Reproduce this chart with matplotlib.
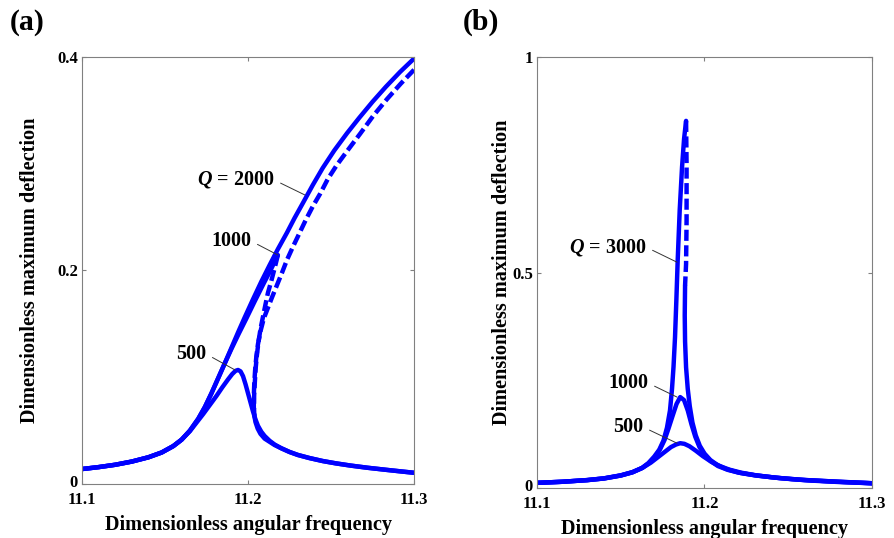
import matplotlib.pyplot as plt
from matplotlib.transforms import ScaledTranslation

plt.rcParams['font.family'] = 'Liberation Serif'
plt.rcParams['font.weight'] = 'bold'
plt.rcParams['axes.labelweight'] = 'bold'
plt.rcParams['mathtext.fontset'] = 'custom'
plt.rcParams['mathtext.it'] = 'Liberation Serif:italic:bold'
plt.rcParams['mathtext.rm'] = 'Liberation Serif:bold'

BLUE = (0, 0, 1)
DASH = (0, (2.5, 1.0))
LW = 3.2

# ---- (a) hardening response, Q = 500 / 1000 / 2000 ----
# Q = 2000: rising stable branch (leaves the frame at 11.3)
a_q2000_x = [11.100, 11.110, 11.120, 11.130, 11.140, 11.148, 11.155, 11.160, 11.165,
             11.170, 11.174, 11.178, 11.182, 11.186, 11.190, 11.194, 11.198, 11.203,
             11.208, 11.213, 11.218, 11.2235, 11.228, 11.233, 11.239, 11.245, 11.252,
             11.2596, 11.267, 11.275, 11.283, 11.2916, 11.300]
a_q2000_y = [0.0140, 0.0158, 0.0180, 0.0210, 0.0250, 0.0295, 0.0355, 0.0415, 0.0500,
             0.0610, 0.0720, 0.0850, 0.0990, 0.1130, 0.1275, 0.1420, 0.1560, 0.1730,
             0.1895, 0.2050, 0.2200, 0.2355, 0.2490, 0.2630, 0.2800, 0.2960, 0.3125,
             0.3285, 0.3430, 0.3580, 0.3720, 0.3860, 0.3985]
# Q = 2000: unstable branch
a_q2000_unst_x = [11.300, 11.292, 11.2837, 11.2755, 11.2675, 11.260, 11.2536, 11.248,
                  11.2435, 11.239, 11.235, 11.231, 11.227, 11.2235, 11.2205, 11.2175,
                  11.2145, 11.212, 11.2095, 11.2075, 11.206, 11.205, 11.2043, 11.2038,
                  11.2035, 11.2035, 11.2038]
a_q2000_unst_y = [0.388, 0.375, 0.3605, 0.345, 0.328, 0.3125, 0.299, 0.2855,
                  0.272, 0.260, 0.248, 0.235, 0.222, 0.210, 0.198, 0.1865,
                  0.175, 0.165, 0.155, 0.143, 0.131, 0.119, 0.107, 0.095,
                  0.083, 0.072, 0.064]
# Q = 1000: rising stable branch up to the jump
a_q1000_x = [11.100, 11.110, 11.120, 11.130, 11.140, 11.148, 11.155, 11.160, 11.165,
             11.170, 11.174, 11.178, 11.182, 11.186, 11.190, 11.1945, 11.199, 11.204,
             11.209, 11.2135, 11.218]
a_q1000_y = [0.0140, 0.0158, 0.0180, 0.0210, 0.0250, 0.0295, 0.0355, 0.0415, 0.0500,
             0.0610, 0.0720, 0.0850, 0.0990, 0.1130, 0.1265, 0.1410, 0.1550, 0.1710,
             0.1865, 0.2000, 0.2145]
# Q = 1000: unstable branch
a_q1000_unst_x = [11.218, 11.216, 11.214, 11.212, 11.2105, 11.209, 11.2075, 11.2063,
                  11.2053, 11.2046, 11.2041, 11.2037, 11.2036, 11.2038]
a_q1000_unst_y = [0.2145, 0.202, 0.190, 0.179, 0.168, 0.1565, 0.145, 0.133,
                  0.120, 0.108, 0.095, 0.083, 0.072, 0.064]
# lower stable branch (Q = 1000 and 2000)
a_lower_x = [11.2038, 11.2045, 11.2058, 11.2075, 11.210, 11.213, 11.216, 11.220, 11.225,
             11.230, 11.237, 11.245, 11.253, 11.262, 11.272, 11.283, 11.292, 11.300]
a_lower_y = [0.064, 0.058, 0.052, 0.047, 0.0425, 0.0395, 0.0365, 0.0335, 0.0300,
             0.0272, 0.0243, 0.0215, 0.0193, 0.0172, 0.0152, 0.0133, 0.0118, 0.0105]
# Q = 500: single-valued peak
a_q500_x = [11.100, 11.110, 11.120, 11.130, 11.140, 11.148, 11.155, 11.160, 11.165,
            11.169, 11.173, 11.177, 11.181, 11.1845, 11.188, 11.1905, 11.1925, 11.194,
            11.1955, 11.197, 11.1985, 11.200, 11.2015, 11.203, 11.2045, 11.206, 11.208,
            11.210, 11.213, 11.216, 11.220, 11.225, 11.230, 11.237, 11.245, 11.253,
            11.262, 11.272, 11.283, 11.292, 11.300]
a_q500_y = [0.0140, 0.0158, 0.0180, 0.0210, 0.0250, 0.0295, 0.0355, 0.0415, 0.0495,
            0.0575, 0.0655, 0.0740, 0.0825, 0.0905, 0.0980, 0.1030, 0.1060, 0.1068,
            0.1055, 0.1010, 0.0935, 0.0850, 0.0765, 0.0680, 0.0605, 0.0545, 0.0490,
            0.0450, 0.0405, 0.0370, 0.0335, 0.0300, 0.0272, 0.0243, 0.0215, 0.0193,
            0.0172, 0.0152, 0.0133, 0.0118, 0.0105]

# ---- (b) near-linear response, Q = 500 / 1000 / 3000 ----
b_q500_x = [11.100, 11.115, 11.130, 11.140, 11.150, 11.157, 11.163, 11.168, 11.172,
            11.176, 11.180, 11.183, 11.1855, 11.188, 11.191, 11.195, 11.199, 11.204,
            11.209, 11.215, 11.222, 11.230, 11.240, 11.252, 11.265, 11.280, 11.300]
b_q500_y = [0.0120, 0.0145, 0.0185, 0.0225, 0.0295, 0.0370, 0.0470, 0.0590, 0.0710,
            0.0830, 0.0950, 0.1010, 0.1040, 0.1025, 0.0970, 0.0860, 0.0740, 0.0610,
            0.0510, 0.0425, 0.0355, 0.0300, 0.0250, 0.0205, 0.0170, 0.0140, 0.0110]
b_q1000_x = [11.100, 11.115, 11.130, 11.140, 11.150, 11.157, 11.163, 11.167, 11.1705,
             11.1735, 11.1762, 11.1785, 11.181, 11.1833, 11.1855, 11.1878, 11.190, 11.1922,
             11.1945, 11.197, 11.200, 11.2035, 11.208, 11.214, 11.222, 11.232, 11.245,
             11.260, 11.280, 11.300]
b_q1000_y = [0.0120, 0.0145, 0.0183, 0.0222, 0.0290, 0.0365, 0.0470, 0.0580, 0.0720,
             0.0900, 0.1120, 0.1380, 0.1680, 0.1950, 0.2110, 0.2040, 0.1800, 0.1480,
             0.1190, 0.0950, 0.0770, 0.0630, 0.0510, 0.0420, 0.0345, 0.0285, 0.0230,
             0.0185, 0.0145, 0.0110]
b_q3000_x = [11.100, 11.115, 11.130, 11.140, 11.150, 11.157, 11.1625, 11.1665, 11.170,
             11.173, 11.1755, 11.1776, 11.1794, 11.1806, 11.1815, 11.1824, 11.1832, 11.184,
             11.1852, 11.1866, 11.1878, 11.189]
b_q3000_y = [0.0120, 0.0145, 0.0183, 0.0222, 0.0290, 0.0365, 0.0460, 0.0580, 0.0730,
             0.0890, 0.1100, 0.1400, 0.1800, 0.2300, 0.2810, 0.3500, 0.4360, 0.5290,
             0.6450, 0.7450, 0.8100, 0.8520]
b_q3000_unst_x = [11.189, 11.1893, 11.1893, 11.189, 11.1884]
b_q3000_unst_y = [0.852, 0.750, 0.620, 0.520, 0.470]
b_q3000_lower_x = [11.1884, 11.1882, 11.1884, 11.189, 11.190, 11.1912, 11.1928, 11.1948,
                   11.1972, 11.200, 11.2035, 11.2075, 11.213, 11.220, 11.230, 11.243,
                   11.258, 11.278, 11.300]
b_q3000_lower_y = [0.470, 0.400, 0.340, 0.280, 0.230, 0.190, 0.152, 0.122,
                   0.098, 0.080, 0.065, 0.054, 0.044, 0.036, 0.0295, 0.0238,
                   0.019, 0.015, 0.0112]


def style_axes(ax, yticks, yticklabels):
    ax.set_xlim(11.1, 11.3)
    ax.set_ylim(0, yticks[-1])
    ax.set_xticks([11.1, 11.2, 11.3])
    ax.set_xticklabels(['11.1', '11.2', '11.3'])
    ax.set_yticks(yticks)
    ax.set_yticklabels(yticklabels)
    for s in ax.spines.values():
        s.set_color('#808080')
        s.set_linewidth(0.8)
    ax.tick_params(direction='in', length=3, width=0.8, color='#808080',
                   top=True, right=True, labelsize=12, pad=3)
    ax.tick_params(axis='x', pad=5.5)
    # lift the "0" a little so it sits above the first x tick label
    zero = ax.yaxis.get_major_ticks()[0].label1
    zero.set_transform(zero.get_transform() + ScaledTranslation(0, 2 / 72, ax.figure.dpi_scale_trans))
    ax.set_xlabel('Dimensionless angular frequency', fontsize=14.6, va='center')
    ax.xaxis.set_label_coords(0.5, -0.096)


def label(ax, text, xy, xytext):
    ax.annotate(text, xy=xy, xytext=xytext, ha='right', va='center', fontsize=14.5,
                arrowprops=dict(arrowstyle='-', lw=0.7, color='#333333',
                                relpos=(1, 0.5), shrinkA=3, shrinkB=0))


def solid(ax, x, y):
    ax.plot(x, y, color=BLUE, lw=LW, solid_capstyle='round', solid_joinstyle='round')


def dashed(ax, x, y):
    ax.plot(x, y, color=BLUE, lw=LW, ls=DASH, dash_capstyle='butt')


fig = plt.figure(figsize=(8.95, 5.38), dpi=100)

# Panel (a)
ax = fig.add_axes([0.0916, 0.1004, 0.371, 0.7937])
solid(ax, a_q2000_x, a_q2000_y)
solid(ax, a_q1000_x, a_q1000_y)
solid(ax, a_lower_x, a_lower_y)
solid(ax, a_q500_x, a_q500_y)
dashed(ax, a_q2000_unst_x, a_q2000_unst_y)
dashed(ax, a_q1000_unst_x, a_q1000_unst_y)
style_axes(ax, [0, 0.2, 0.4], ['0', '0.2', '0.4'])
ax.set_ylabel('Dimensionless maximum deflection', fontsize=14.6, va='center')
ax.yaxis.set_label_coords(-0.157, 0.5)
label(ax, r'$Q$ = 2000', (11.2343, 0.2707), (11.2157, 0.2848))
label(ax, '1000', (11.218, 0.2145), (11.2018, 0.2276))
label(ax, '500', (11.1922, 0.1068), (11.1747, 0.1218))
fig.text(0.011, 0.959, '(a)', fontsize=21.5, va='center', ha='left')

# Panel (b)
ax = fig.add_axes([0.6, 0.0929, 0.3743, 0.801])
solid(ax, b_q500_x, b_q500_y)
solid(ax, b_q1000_x, b_q1000_y)
solid(ax, b_q3000_x, b_q3000_y)
solid(ax, b_q3000_lower_x, b_q3000_lower_y)
dashed(ax, b_q3000_unst_x, b_q3000_unst_y)
style_axes(ax, [0, 0.5, 1], ['0', '0.5', '1'])
ax.set_ylabel('Dimensionless maximum deflection', fontsize=14.6, va='center')
ax.yaxis.set_label_coords(-0.104, 0.5)
label(ax, r'$Q$ = 3000', (11.1836, 0.524), (11.1651, 0.559))
label(ax, '1000', (11.1836, 0.211), (11.1663, 0.2436))
label(ax, '500', (11.1836, 0.104), (11.1633, 0.1415))
fig.text(0.517, 0.959, '(b)', fontsize=21.5, va='center', ha='left')

fig.savefig('out.png', dpi=100)
